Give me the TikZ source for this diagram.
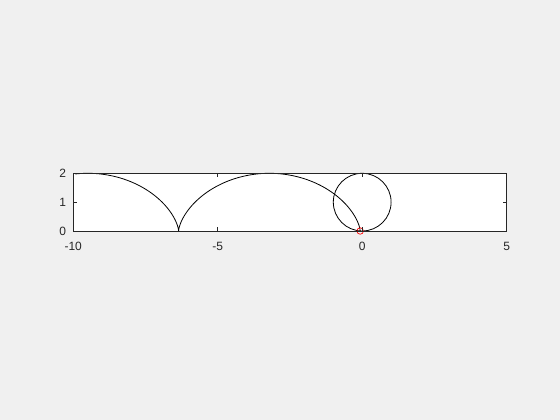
\documentclass[tikz,border=0pt]{standalone}
\usepackage{fontspec}
\setmainfont{Liberation Sans}
\definecolor{figbg}{RGB}{240,240,240}
\definecolor{axcol}{RGB}{38,38,38}
\begin{document}
\begin{tikzpicture}[x=1pt,y=1pt,
  ticklab/.style={font=\fontsize{12}{14}\selectfont, text=axcol, inner sep=0pt},
  curve/.style={black, line width=0.8pt},
  axline/.style={axcol, line width=0.7pt}]
\useasboundingbox (0,-420) rectangle (560,0);
\fill[figbg] (0,-420) rectangle (560,0);
\begin{scope}[shift={(362.2,-231)}, x=28.9pt, y=28.85pt]
  \coordinate (ll) at (-10,0);
  \coordinate (ur) at (5,2);
  \fill[white] (ll) rectangle (ur);
  % curves
  \draw[curve] plot[domain=-9.64:0, samples=400, variable=\t] ({\t - sin(\t r) - 0.07}, {1 - cos(\t r)});
  \draw[curve] (0,1) circle[radius=1];
  \node[draw=red, circle, minimum size=6.5pt, inner sep=0pt, line width=0.7pt] (mk) at (-0.07,0) {};
  % axes box
  \draw[axline] (ll) rectangle (ur);
  % x ticks
  \foreach \v in {-10,-5,0,5} {
    \draw[axline] (\v,0) -- ++(0,4pt);
    \draw[axline] (\v,2) -- ++(0,-4pt);
    \node[ticklab, anchor=north] (xl\v) at ([yshift=-11pt]\v,0) {\v};
  }
  % y ticks
  \foreach \v in {0,1,2} {
    \draw[axline] (-10,\v) -- ++(4pt,0);
    \draw[axline] (5,\v) -- ++(-4pt,0);
    \node[ticklab, anchor=east] (yl\v) at ([xshift=-7pt]-10,\v) {\v};
  }
\end{scope}
\end{tikzpicture}
\end{document}
